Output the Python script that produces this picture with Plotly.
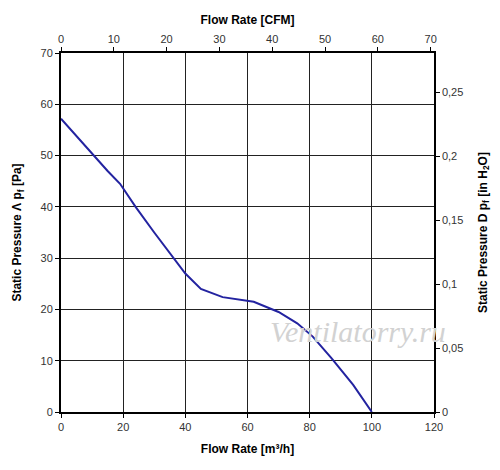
import plotly.graph_objects as go

# curve (m3/h, Pa)
flow_m3h = [0, 5, 10, 15, 19, 24, 30, 35, 40, 45, 52, 62, 70, 76, 81, 87, 94, 100]
pressure_pa = [57.2, 53.8, 50.3, 47.0, 44.5, 40.0, 35.0, 31.0, 27.0, 24.0,
               22.4, 21.5, 19.5, 17.3, 14.7, 10.5, 5.3, 0]

M3H_PER_CFM = 1.699
PA_PER_INH2O = 249.09

font = dict(family='Liberation Sans, Arial', size=11, color='#333333')
title_font = dict(family='Liberation Sans, Arial', size=12, color='black')

fig = go.Figure()
fig.add_trace(go.Scatter(
    x=flow_m3h, y=pressure_pa, mode='lines',
    line=dict(color='#2323a0', width=2), showlegend=False
))
# same curve on the secondary axes, invisible, so those axes are drawn
fig.add_trace(go.Scatter(
    x=[v / M3H_PER_CFM for v in flow_m3h],
    y=[v / PA_PER_INH2O for v in pressure_pa],
    xaxis='x2', yaxis='y2', mode='lines',
    line=dict(color='rgba(0,0,0,0)'), hoverinfo='skip', showlegend=False
))

axis_common = dict(showline=True, linecolor='black', ticks='outside',
                   ticklen=4, tickcolor='black', tickfont=font,
                   zeroline=False, automargin=False)

fig.update_layout(
    width=500, height=470,
    margin=dict(l=53, r=74, t=45, b=66),
    paper_bgcolor='white', plot_bgcolor='white',
    separators=', ',
    xaxis=dict(range=[0, 120], dtick=20, showgrid=True, gridcolor='#222222',
               gridwidth=1, linewidth=2,
               title=dict(text='<b>Flow Rate [m³/h]</b>', font=title_font, standoff=12),
               **axis_common),
    yaxis=dict(range=[0, 70], dtick=10, showgrid=True, gridcolor='#222222',
               gridwidth=1, linewidth=2,
               title=dict(text='<b>Static Pressure Λ p<sub>f</sub> [Pa]</b>',
                          font=title_font, standoff=16),
               **axis_common),
    xaxis2=dict(range=[0, 120 / M3H_PER_CFM], dtick=10, side='top',
                overlaying='x', showgrid=False, linewidth=1.5,
                title=dict(text='<b>Flow Rate [CFM]</b>', font=title_font, standoff=6),
                **axis_common),
    yaxis2=dict(range=[0, 70 / PA_PER_INH2O], dtick=0.05, side='right',
                overlaying='y', showgrid=False, linewidth=1.5,
                title=dict(text='<b>Static Pressure D p<sub>f</sub> [in H<sub>2</sub>O]</b>',
                           font=title_font, standoff=16),
                **axis_common),
    annotations=[dict(
        text='<i>Ventilatorry.ru</i>', x=95.5, y=15.6, xref='x', yref='y',
        showarrow=False,
        font=dict(family='Liberation Serif, Times New Roman', size=30, color='#d2d2d2')
    )]
)

fig.write_html("out.html")
